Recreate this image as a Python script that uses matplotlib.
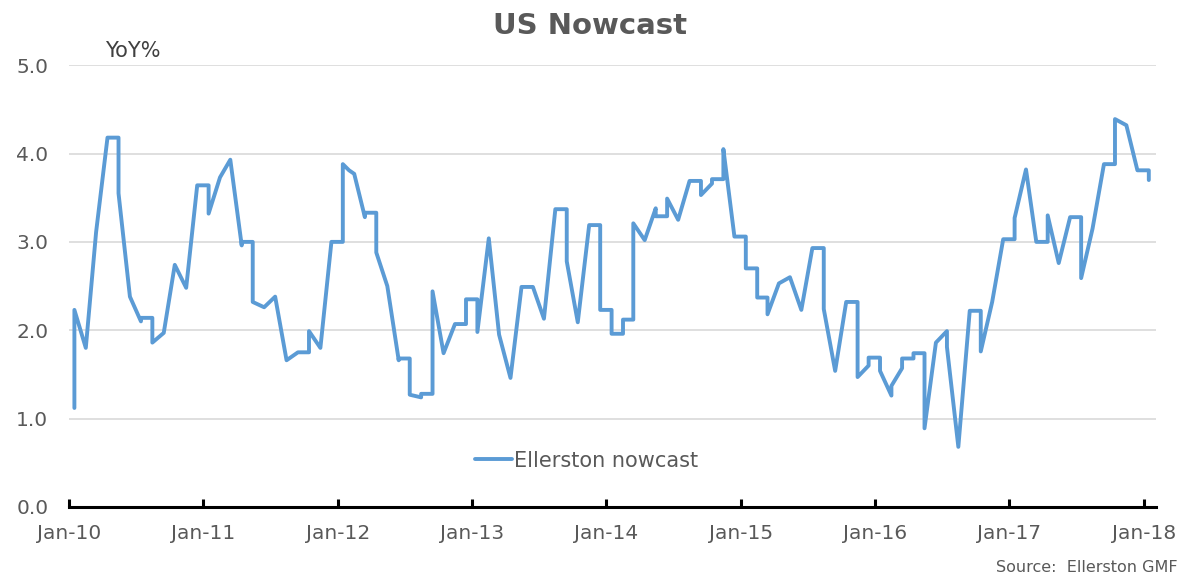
import matplotlib
matplotlib.use('Agg')
import matplotlib.pyplot as plt
import matplotlib.dates as mdates
import numpy as np
import pandas as pd

# ── Data (monthly points; repeated dates = step jumps) ──
dates = [
    '2010-01-15', '2010-01-15', '2010-02-15', '2010-03-15', '2010-04-15', '2010-05-15', '2010-05-15',
    '2010-06-15', '2010-07-15', '2010-07-15', '2010-08-15', '2010-08-15', '2010-09-15', '2010-10-15',
    '2010-11-15', '2010-12-15',
    '2011-01-15', '2011-01-15', '2011-02-15', '2011-03-15', '2011-04-15', '2011-04-15', '2011-05-15',
    '2011-05-15', '2011-06-15', '2011-07-15', '2011-08-15', '2011-09-15', '2011-10-15', '2011-10-15',
    '2011-11-15', '2011-12-15',
    '2012-01-15', '2012-01-15', '2012-02-01', '2012-02-15', '2012-03-15', '2012-03-15', '2012-04-15',
    '2012-04-15', '2012-05-15', '2012-06-15', '2012-06-15', '2012-07-15', '2012-07-15', '2012-08-15',
    '2012-08-15', '2012-09-15', '2012-09-15', '2012-10-15', '2012-11-15', '2012-12-15', '2012-12-15',
    '2013-01-15', '2013-01-15', '2013-02-15', '2013-03-15', '2013-04-15', '2013-05-15', '2013-06-15',
    '2013-07-15', '2013-08-15', '2013-09-15', '2013-09-15', '2013-10-15', '2013-11-15', '2013-12-15',
    '2013-12-15',
    '2014-01-15', '2014-01-15', '2014-02-15', '2014-02-15', '2014-03-15', '2014-03-15', '2014-04-15',
    '2014-05-15', '2014-05-15', '2014-06-15', '2014-06-15', '2014-07-15', '2014-08-15', '2014-09-15',
    '2014-09-15', '2014-10-15', '2014-10-15', '2014-11-15', '2014-11-15', '2014-12-15',
    '2015-01-15', '2015-01-15', '2015-02-15', '2015-02-15', '2015-03-15', '2015-03-15', '2015-04-15',
    '2015-05-15', '2015-06-15', '2015-07-15', '2015-08-15', '2015-08-15', '2015-09-15', '2015-10-15',
    '2015-11-15', '2015-11-15', '2015-12-15', '2015-12-15',
    '2016-01-15', '2016-01-15', '2016-02-15', '2016-02-15', '2016-03-15', '2016-03-15', '2016-04-15',
    '2016-04-15', '2016-05-15', '2016-05-15', '2016-06-15', '2016-07-15', '2016-07-15', '2016-08-15',
    '2016-09-15', '2016-10-15', '2016-10-15', '2016-11-15', '2016-12-15',
    '2017-01-15', '2017-01-15', '2017-02-15', '2017-03-15', '2017-04-15', '2017-04-15', '2017-05-15',
    '2017-06-15', '2017-07-15', '2017-07-15', '2017-08-15', '2017-09-15', '2017-10-15', '2017-10-15',
    '2017-11-15', '2017-12-15',
    '2018-01-15', '2018-01-15',
]

nowcast = [
    1.12, 2.23, 1.80, 3.11, 4.18, 4.18, 3.55,
    2.38, 2.10, 2.14, 2.14, 1.86, 1.97, 2.74,
    2.48, 3.64,
    3.64, 3.32, 3.73, 3.93, 2.96, 3.00, 3.00,
    2.32, 2.26, 2.38, 1.66, 1.75, 1.75, 1.99,
    1.80, 3.00,
    3.00, 3.88, 3.81, 3.77, 3.28, 3.33, 3.33,
    2.88, 2.50, 1.66, 1.68, 1.68, 1.27, 1.24,
    1.28, 1.28, 2.44, 1.74, 2.07, 2.07, 2.35,
    2.35, 1.98, 3.04, 1.95, 1.46, 2.49, 2.49,
    2.13, 3.37, 3.37, 2.78, 2.09, 3.19, 3.19,
    2.23,
    2.23, 1.96, 1.96, 2.12, 2.12, 3.21, 3.02,
    3.38, 3.29, 3.29, 3.49, 3.25, 3.69, 3.69,
    3.53, 3.66, 3.71, 3.71, 4.05, 3.06,
    3.06, 2.70, 2.70, 2.37, 2.37, 2.18, 2.53,
    2.60, 2.23, 2.93, 2.93, 2.24, 1.54, 2.32,
    2.32, 1.47, 1.60, 1.69,
    1.69, 1.54, 1.26, 1.37, 1.57, 1.68, 1.68,
    1.74, 1.74, 0.89, 1.86, 1.99, 1.81, 0.68,
    2.22, 2.22, 1.76, 2.32, 3.03,
    3.03, 3.27, 3.82, 3.00, 3.00, 3.30, 2.76,
    3.28, 3.28, 2.59, 3.15, 3.88, 3.88, 4.39,
    4.32, 3.81,
    3.81, 3.70,
]

yticks = [0.0, 1.0, 2.0, 3.0, 4.0, 5.0]

x = pd.to_datetime(dates)
y = np.array(nowcast)

GRAY = '#595959'
BLUE = '#5B9BD5'

fig = plt.figure(figsize=(11.94, 5.82), dpi=100)
ax = fig.add_axes([0.058, 0.129, 0.91, 0.759])

ax.plot(x, y, color=BLUE, lw=2.8, solid_joinstyle='round', solid_capstyle='round',
        label='Ellerston nowcast')

ax.set_ylim(0, 5)
ax.set_yticks(yticks)
ax.set_yticklabels([f'{v:.1f}' for v in yticks])
ax.set_xlim(pd.Timestamp('2010-01-01'), pd.Timestamp('2018-02-03'))
ax.xaxis.set_major_locator(mdates.YearLocator())
ax.xaxis.set_major_formatter(mdates.DateFormatter('%b-%y'))

for v in yticks[1:]:
    ax.axhline(v, color='#d9d9d9', lw=1.2, zorder=0)

for s in ['top', 'right', 'left']:
    ax.spines[s].set_visible(False)
ax.spines['bottom'].set_linewidth(2.2)
ax.spines['bottom'].set_color('black')

ax.tick_params(axis='y', length=0, pad=15, labelsize=14.5, labelcolor=GRAY)
ax.tick_params(axis='x', direction='in', length=6, width=2.2, color='black',
               pad=12, labelsize=14.5, labelcolor=GRAY)

fig.text(0.494, 0.955, 'US Nowcast', ha='center', va='center',
         fontsize=21, fontweight='bold', color=GRAY)
fig.text(0.088, 0.913, 'YoY%', ha='left', va='center', fontsize=15, color='#404040')
fig.text(0.986, 0.012, 'Source:  Ellerston GMF', ha='right', va='bottom',
         fontsize=11.5, color=GRAY)

leg = ax.legend(loc='center', bbox_to_anchor=(0.476, 0.105), frameon=False,
                fontsize=15, handlelength=1.8, handletextpad=0.1)
for t in leg.get_texts():
    t.set_color(GRAY)

fig.savefig('out.png', dpi=100)
